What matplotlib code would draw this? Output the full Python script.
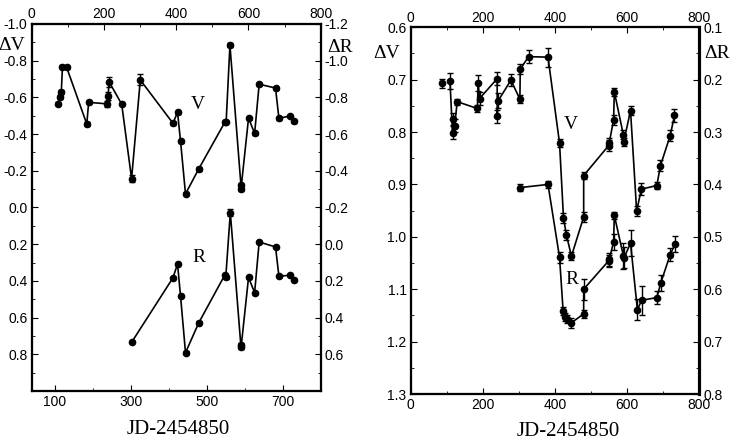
import numpy as np
import matplotlib

matplotlib.use("Agg")
import matplotlib.pyplot as plt
from matplotlib.ticker import MultipleLocator, FixedLocator

plt.rcParams["font.family"] = ["Liberation Sans", "DejaVu Sans"]
SERIF = ["Liberation Serif", "DejaVu Serif"]

# ---- left panel: V (left axis) and R (right axis, offset) ----
v1_x = [107, 114, 117, 120, 131, 184, 189, 237, 240, 243, 276, 302, 325, 411, 423,
        431, 444, 479, 548, 551, 561, 590, 590, 610, 626, 638, 681, 690, 718, 730]
v1_y = [-0.565, -0.604, -0.631, -0.767, -0.764, -0.455, -0.573, -0.565, -0.607, -0.684,
        -0.563, -0.157, -0.695, -0.459, -0.519, -0.360, -0.074, -0.211, -0.466, -0.466,
        -0.885, -0.121, -0.099, -0.487, -0.404, -0.672, -0.651, -0.486, -0.498, -0.469]
v1_e = [0.008, 0.01, 0.01, 0.008, 0.008, 0.01, 0.008, 0.015, 0.02, 0.025,
        0.006, 0.02, 0.03, 0.008, 0.008, 0.008, 0.008, 0.012, 0.008, 0.008,
        0.012, 0.012, 0.01, 0.008, 0.008, 0.008, 0.008, 0.008, 0.006, 0.006]

r1_x = [302, 411, 423, 431, 444, 479, 548, 550, 562, 590, 591, 610, 626, 638, 681, 690, 718, 730]
r1_y = [0.535, 0.183, 0.108, 0.284, 0.591, 0.428, 0.166, 0.181, -0.172, 0.559,
        0.550, 0.181, 0.264, -0.012, 0.015, 0.175, 0.169, 0.195]
r1_e = [0.006, 0.006, 0.006, 0.006, 0.008, 0.008, 0.006, 0.006, 0.02, 0.01,
        0.01, 0.006, 0.006, 0.006, 0.006, 0.006, 0.006, 0.006]

# ---- right panel ----
v2_x = [88, 109, 116, 118, 122, 129, 185, 187, 191, 240, 240, 243, 278, 303, 304, 327,
        381, 413, 424, 432, 446, 480, 480, 549, 551, 563, 565, 590, 591, 610, 627, 640,
        683, 693, 720, 732]
v2_y = [0.707, 0.703, 0.801, 0.775, 0.788, 0.742, 0.755, 0.707, 0.736, 0.698, 0.770,
        0.740, 0.701, 0.737, 0.680, 0.656, 0.657, 0.821, 0.964, 0.996, 1.037, 0.962,
        0.883, 0.826, 0.820, 0.777, 0.723, 0.805, 0.819, 0.759, 0.951, 0.909, 0.902,
        0.864, 0.807, 0.768]
v2_e = [0.008, 0.015, 0.012, 0.012, 0.012, 0.006, 0.006, 0.015, 0.012, 0.012, 0.012,
        0.015, 0.012, 0.008, 0.01, 0.012, 0.018, 0.008, 0.01, 0.01, 0.008, 0.01,
        0.006, 0.01, 0.008, 0.01, 0.008, 0.008, 0.008, 0.008, 0.01, 0.012, 0.006,
        0.01, 0.01, 0.012]

r2_x = [303, 381, 413, 423, 429, 434, 446, 480, 480, 549, 551, 563, 565, 590, 592, 610,
        629, 641, 683, 694, 720, 734]
r2_y = [0.406, 0.400, 0.539, 0.642, 0.653, 0.657, 0.664, 0.647, 0.600, 0.546, 0.543,
        0.510, 0.459, 0.536, 0.540, 0.512, 0.639, 0.621, 0.616, 0.588, 0.534, 0.513]
r2_e = [0.006, 0.006, 0.01, 0.008, 0.008, 0.008, 0.01, 0.008, 0.02, 0.012, 0.012,
        0.015, 0.006, 0.025, 0.02, 0.025, 0.02, 0.028, 0.012, 0.015, 0.012, 0.015]

W, H = 736, 448
fig = plt.figure(figsize=(W / 100, H / 100), dpi=100)


def px(x0, y0, x1, y1):
    return [x0 / W, 1 - y1 / H, (x1 - x0) / W, (y1 - y0) / H]


def series(ax, x, y, e, line_from=0):
    ax.plot(x[line_from:], y[line_from:], "-", color="black", lw=1.2, zorder=2)
    ax.errorbar(x, y, yerr=e, fmt="o", color="black", ms=4.5, elinewidth=1,
                capsize=2.2, capthick=1, zorder=3)


def style(ax, axr, axt, lw):
    for a in (ax, axr, axt):
        for s in a.spines.values():
            s.set_linewidth(lw)
    ax.tick_params(which="both", direction="in", top=False, right=False, labelsize=10, pad=3)
    ax.tick_params(which="major", length=4)
    ax.tick_params(which="minor", length=2.5)
    axr.tick_params(which="both", direction="in", labelsize=10, pad=3)
    axr.tick_params(which="major", length=4)
    axr.tick_params(which="minor", length=2.5)
    axt.tick_params(which="both", direction="in", labelsize=10, pad=2)
    axt.tick_params(which="major", length=4)
    axt.tick_params(which="minor", length=2.5)


# left panel
ax = fig.add_axes(px(31.7, 24, 320.7, 391))
axr = ax.twinx()
axt = ax.twiny()
ax.set_xlim(39, 800)
ax.set_ylim(1.0, -1.0)
axr.set_ylim(0.8, -1.2)
axt.set_xlim(0, 800)
ax.xaxis.set_major_locator(FixedLocator([100, 300, 500, 700]))
ax.xaxis.set_minor_locator(FixedLocator([200, 400, 600]))
ax.yaxis.set_major_locator(FixedLocator([-1.0, -0.8, -0.6, -0.4, -0.2, 0.0, 0.2, 0.4, 0.6, 0.8]))
ax.yaxis.set_minor_locator(MultipleLocator(0.1))
axr.yaxis.set_major_locator(FixedLocator([-1.2, -1.0, -0.8, -0.6, -0.4, -0.2, 0.0, 0.2, 0.4, 0.6]))
axr.yaxis.set_minor_locator(MultipleLocator(0.1))
axt.xaxis.set_major_locator(MultipleLocator(200))
axt.xaxis.set_minor_locator(MultipleLocator(100))
ax.yaxis.set_major_formatter(lambda v, p: f"{v:.1f}")
axr.yaxis.set_major_formatter(lambda v, p: f"{v:.1f}")
style(ax, axr, axt, 1.5)
series(ax, v1_x, v1_y, v1_e)
series(axr, r1_x, r1_y, r1_e)
ax.text(476, -0.56, "V", fontsize=14, family=SERIF, ha="center", va="center")
ax.text(479, 0.275, "R", fontsize=14, family=SERIF, ha="center", va="center")

# right panel
bx = fig.add_axes(px(410.7, 27.3, 699, 394))
bxr = bx.twinx()
bxt = bx.twiny()
bx.set_xlim(0, 800)
bxt.set_xlim(0, 800)
bx.set_ylim(1.3, 0.6)
bxr.set_ylim(0.8, 0.1)
bx.xaxis.set_major_locator(MultipleLocator(200))
bx.xaxis.set_minor_locator(MultipleLocator(100))
bxt.xaxis.set_major_locator(MultipleLocator(200))
bxt.xaxis.set_minor_locator(MultipleLocator(100))
bx.yaxis.set_major_locator(MultipleLocator(0.1))
bx.yaxis.set_minor_locator(MultipleLocator(0.05))
bxr.yaxis.set_major_locator(MultipleLocator(0.1))
bxr.yaxis.set_minor_locator(MultipleLocator(0.05))
bx.yaxis.set_major_formatter(lambda v, p: f"{v:.1f}")
bxr.yaxis.set_major_formatter(lambda v, p: f"{v:.1f}")
style(bx, bxr, bxt, 1.5)
for a in (bx, bxr, bxt):
    a.spines["right"].set_linewidth(2.2)
series(bx, v2_x, v2_y, v2_e, line_from=1)
series(bxr, r2_x, r2_y, r2_e)
bx.text(443, 0.786, "V", fontsize=14, family=SERIF, ha="center", va="center")
bx.text(448, 1.081, "R", fontsize=14, family=SERIF, ha="center", va="center")

# axis titles
for x, y, s in [(12, 46, "ΔV"), (340, 47, "ΔR"), (387, 53, "ΔV"), (717, 53, "ΔR")]:
    fig.text(x / W, 1 - y / H, s, fontsize=14, family=SERIF, ha="center", va="center")
fig.text(178 / W, 1 - 429 / H, "JD-2454850", fontsize=15, family=SERIF, ha="center", va="center")
fig.text(568 / W, 1 - 431 / H, "JD-2454850", fontsize=15, family=SERIF, ha="center", va="center")

fig.savefig("out.png", dpi=100)
